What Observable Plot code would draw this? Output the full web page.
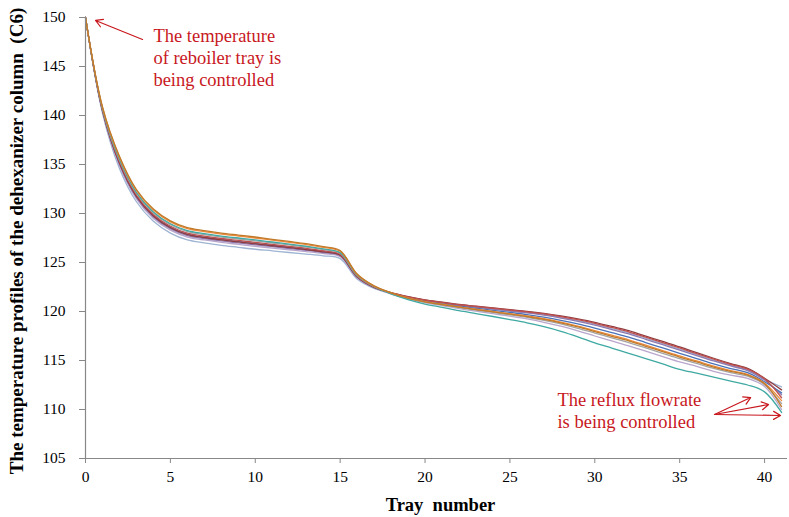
<!DOCTYPE html>
<html>
<head>
<meta charset="utf-8">
<script src="https://cdn.jsdelivr.net/npm/d3@7"></script>
<script src="https://cdn.jsdelivr.net/npm/@observablehq/plot@0.6"></script>
<style>
  html, body { margin: 0; padding: 0; background: #fff; }
  #chart { width: 789px; height: 517px; }
</style>
</head>
<body>
<div id="chart"></div>
<script>
// Tray numbers (x categories)
const trays = [0,1,2,3,4,5,6,7,8,9,10,11,12,13,14,15,16,17,18,19,20,21,22,23,24,25,26,27,28,29,30,31,32,33,34,35,36,37,38,39,40,41];

// Temperature profiles (one array per case)
const caseOrange = [150,140.83,135.75,132.35,130.35,129.15,128.45,128.15,127.9,127.7,127.5,127.28,127.06,126.83,126.54,126.14,123.78,122.59,121.91,121.39,121.01,120.74,120.47,120.24,120.01,119.78,119.55,119.26,118.91,118.51,118.05,117.58,117.11,116.56,116.01,115.46,114.95,114.42,113.97,113.58,112.68,110.9];
const caseBrown = [150,140.88,135.85,132.45,130.45,129.25,128.55,128.25,128.0,127.8,127.6,127.37,127.15,126.92,126.61,126.21,123.82,122.61,121.91,121.37,120.99,120.71,120.44,120.2,119.97,119.74,119.49,119.19,118.84,118.42,117.95,117.47,117.0,116.45,115.9,115.35,114.85,114.33,113.88,113.5,112.62,110.3];
const caseTeal = [150,140.73,135.55,132.15,130.15,128.95,128.25,127.95,127.7,127.5,127.3,127.09,126.88,126.66,126.39,126.01,123.7,122.55,121.79,121.21,120.76,120.43,120.09,119.79,119.49,119.18,118.85,118.45,117.98,117.42,116.8,116.27,115.73,115.2,114.65,114.1,113.7,113.3,112.9,112.5,111.8,109.7];
const caseLilac = [150,140.4,134.9,131.5,129.5,128.3,127.6,127.3,127.05,126.85,126.65,126.47,126.29,126.11,125.9,125.59,123.44,122.42,121.78,121.31,120.9,120.6,120.3,120.04,119.78,119.52,119.24,118.9,118.5,118.03,117.5,117.0,116.5,115.95,115.4,114.85,114.4,113.9,113.5,113.18,112.35,110.0];
const caseBlue = [150,140.55,135.2,131.8,129.8,128.6,127.9,127.6,127.35,127.15,126.95,126.76,126.56,126.37,126.13,125.79,123.56,122.48,121.87,121.42,121.06,120.8,120.54,120.33,120.12,119.9,119.69,119.42,119.1,118.73,118.3,117.84,117.38,116.83,116.28,115.73,115.2,114.66,114.18,113.76,112.83,111.7];
const caseRed = [150,140.6,135.3,131.9,129.9,128.7,128.0,127.7,127.45,127.25,127.05,126.85,126.65,126.45,126.2,125.85,123.6,122.5,121.92,121.49,121.16,120.93,120.69,120.51,120.33,120.14,119.97,119.75,119.48,119.16,118.8,118.37,117.93,117.38,116.83,116.28,115.7,115.14,114.61,114.12,113.13,111.2];
const caseDarkRed = [150,140.53,135.15,131.75,129.75,128.55,127.85,127.55,127.3,127.1,126.9,126.71,126.52,126.32,126.09,125.75,123.54,122.47,121.92,121.51,121.18,120.95,120.72,120.54,120.37,120.19,120.02,119.81,119.55,119.25,118.9,118.47,118.04,117.49,116.94,116.39,115.8,115.23,114.69,114.19,113.19,112.0];
const caseSky = [150,140.25,134.6,131.2,129.2,128.0,127.3,127.0,126.75,126.55,126.35,126.19,126.02,125.86,125.68,125.4,123.32,122.36,121.85,121.48,121.14,120.9,120.66,120.47,120.28,120.1,119.91,119.68,119.4,119.07,118.7,118.26,117.82,117.27,116.72,116.17,115.6,115.04,114.52,114.04,113.07,112.3];
const casePurple = [150,140.48,135.05,131.65,129.65,128.45,127.75,127.45,127.2,127.0,126.8,126.61,126.43,126.24,126.01,125.69,123.5,122.45,121.88,121.46,121.12,120.88,120.63,120.44,120.24,120.05,119.86,119.62,119.33,118.99,118.6,118.16,117.71,117.16,116.61,116.06,115.5,114.95,114.44,113.97,113.01,111.5];
const caseGray = [150,140.68,135.45,132.05,130.05,128.85,128.15,127.85,127.6,127.4,127.2,126.99,126.79,126.58,126.31,125.95,123.66,122.53,121.86,121.35,120.96,120.68,120.39,120.15,119.91,119.66,119.41,119.1,118.73,118.29,117.8,117.32,116.83,116.28,115.73,115.18,114.7,114.19,113.76,113.4,112.53,110.6];

const seriesNames = ["Case 1","Case 2","Case 3","Case 4","Case 5","Case 6","Case 7","Case 8","Case 9","Case 10"];
const seriesValues = [caseSky, caseLilac, casePurple, caseBlue, caseDarkRed, caseRed, caseGray, caseTeal, caseOrange, caseBrown];
const seriesColors = ["#9DB4D3","#B9A6CC","#8E79B0","#4A72B8","#8E3B3E","#C0504D","#A3A3A3","#3FA9A2","#EE8A3C","#C07A2A"];

// Tick labels
const xTicks = [0,5,10,15,20,25,30,35,40];
const yTicks = [105,110,115,120,125,130,135,140,145,150];

// Annotations
const annoTexts = ["The temperature\nof reboiler tray is\nbeing controlled", "The reflux flowrate\nis being controlled"];
const annoX = [4.0, 27.8];
const annoY = [149.1, 111.94];
const arrowX1 = [3.36, 37.05, 37.05, 37.05];
const arrowY1 = [147.76, 109.49, 109.49, 109.49];
const arrowX2 = [0.59, 39.18, 40.24, 40.94];
const arrowY2 = [149.7, 111.22, 110.51, 109.39];

const rows = [];
seriesNames.forEach((name, i) => {
  trays.forEach((t, j) => rows.push({series: name, tray: t, temp: seriesValues[i][j]}));
});
const annos = annoTexts.map((t, i) => ({text: t, x: annoX[i], y: annoY[i]}));
const arrows = arrowX1.map((x1, i) => ({x1, y1: arrowY1[i], x2: arrowX2[i], y2: arrowY2[i]}));

const red = "#C8181E";
const axisGray = "#888888";

const chart = Plot.plot({
  width: 789,
  height: 517,
  marginTop: 17,
  marginLeft: 85,
  marginBottom: 59,
  marginRight: 2,
  style: {fontFamily: "'Liberation Serif', 'Times New Roman', serif", fontSize: "15px", color: "#000", background: "#fff"},
  x: {domain: [0, 41.35]},
  y: {domain: [105, 150]},
  color: {domain: seriesNames, range: seriesColors},
  marks: [
    Plot.lineY(rows, {x: "tray", y: "temp", z: "series", stroke: "series", strokeWidth: 1.3, curve: "catmull-rom"}),
    Plot.ruleX([0], {stroke: axisGray, strokeWidth: 1.2}),
    Plot.ruleY([105], {stroke: axisGray, strokeWidth: 1.2}),
    Plot.axisX({ticks: xTicks, tickSize: 5, tickPadding: 7, stroke: axisGray, fill: "#000", label: null, fontSize: 15.5}),
    Plot.axisY({ticks: yTicks, tickSize: 6, tickPadding: 14, stroke: axisGray, fill: "#000", label: null, fontSize: 15.5}),
    Plot.text(["The temperature profiles of the dehexanizer column\u00a0\u00a0(C6)"], {frameAnchor: "left", textAnchor: "middle", rotate: -90, dx: -69, dy: 3, fontWeight: "bold", fontSize: 19, fill: "#000"}),
    Plot.text(["Tray\u00a0\u00a0number"], {frameAnchor: "bottom", textAnchor: "middle", dy: 52, dx: 4, fontWeight: "bold", fontSize: 18.5, fill: "#000"}),
    Plot.text(annos, {x: "x", y: "y", text: "text", textAnchor: "start", lineAnchor: "top", lineHeight: 1.2, fontSize: 18.5, fill: red}),
    Plot.arrow(arrows, {x1: "x1", y1: "y1", x2: "x2", y2: "y2", stroke: red, strokeWidth: 1.2, headLength: 10})
  ]
});
document.getElementById("chart").appendChild(chart);
</script>
</body>
</html>
